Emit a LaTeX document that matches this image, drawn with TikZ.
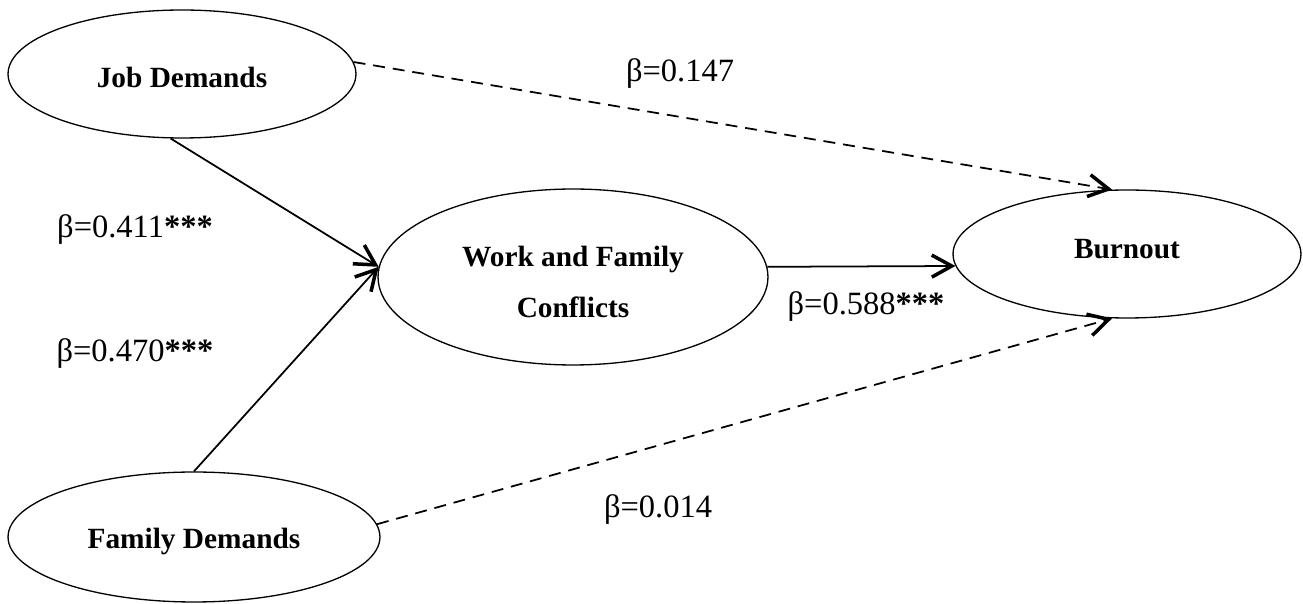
\documentclass[tikz,border=0pt]{standalone}
\usepackage{fontspec}
\setmainfont{Liberation Serif}
\usetikzlibrary{arrows.meta,shapes.geometric}

\begin{document}
\begin{tikzpicture}[
		x={(0.02cm,0cm)},
		y={(0cm,-0.02cm)},
		construct/.style={ellipse,draw=black,line width=0.75pt,inner sep=0pt,align=center,font=\fontsize{16.7}{29}\selectfont\bfseries},
		coef/.style={anchor=base,inner sep=0pt,font=\fontsize{18.5}{22}\selectfont},
		effect/.style={line width=1pt,-{Straight Barb[length=4mm,width=4.4mm,line width=2pt]}},
		weak/.style={effect,dash pattern=on 6.8pt off 4.5pt},
	]
		\useasboundingbox (0,0) rectangle (1303,604);
		
		\node[construct,minimum width=6.96cm,minimum height=2.56cm,text height=15pt] (job) at (182,74) {Job Demands};
		\node[construct,minimum width=7.44cm,minimum height=2.6cm,text height=17pt] (fam) at (194,537) {Family Demands};
		\node[construct,minimum width=7.8cm,minimum height=3.52cm] (wfc) at (573,277) {\rule{0pt}{17.5pt}Work and Family\\Conflicts};
		\node[construct,minimum width=6.96cm,minimum height=2.56cm,text depth=6pt] (burn) at (1127,254) {Burnout};
		
		\draw[effect] (job.260) -- (wfc.177);
		\draw[effect] (fam.90) -- (wfc.177);
		\draw[effect] (wfc.3) -- (burn.184);
		\draw[weak] (job.4) -- (burn.103);
		\draw[weak] (fam.4) -- (burn.257);
		
		\node[coef] (bjob) at (680,82) {β=0.147};
		\node[coef] (bjw) at (135,238) {β=0.411\textbf{***}};
		\node[coef] (bfw) at (135,362) {β=0.470\textbf{***}};
		\node[coef] (bwb) at (866,315) {β=0.588\textbf{***}};
		\node[coef] (bfam) at (658,518) {β=0.014};
	\end{tikzpicture}
\end{document}
